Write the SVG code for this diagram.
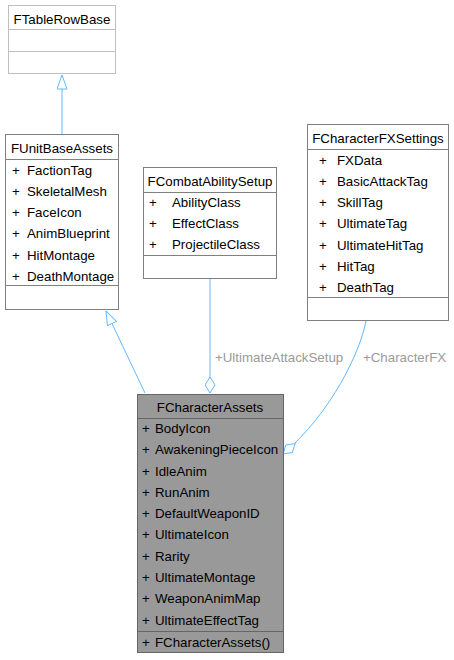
<svg xmlns="http://www.w3.org/2000/svg" width="454" height="660" viewBox="0 0 454 660">
<style>
text{font-family:"Liberation Sans",Arial,sans-serif;font-size:13.3px;fill:#000}
.t{text-anchor:middle}
.box{fill:#fff;stroke:#808080;stroke-width:1}
.lt{fill:#fff;stroke:#bfbfbf;stroke-width:1}
.cur{fill:#999;stroke:#666;stroke-width:1}
.sep{stroke:#808080;stroke-width:1}
.sepl{stroke:#bfbfbf;stroke-width:1}
.sepc{stroke:#666;stroke-width:1}
.edge{fill:none;stroke:#63b8ff;stroke-width:1}
.lbl{fill:#9a9a9a}
</style>
<defs>
<marker id="tri" viewBox="0 0 15 11" refX="14.5" refY="5.5" markerWidth="15" markerHeight="11" markerUnits="userSpaceOnUse" orient="auto">
<path d="M0.5,0.5 L14.5,5.5 L0.5,10.5 Z" fill="#fff" stroke="#63b8ff" stroke-width="1"/>
</marker>
<marker id="dia" viewBox="0 0 17 11" refX="16.5" refY="5.5" markerWidth="17" markerHeight="11" markerUnits="userSpaceOnUse" orient="auto">
<path d="M0.5,5.5 L8.5,0.5 L16.5,5.5 L8.5,10.5 Z" fill="#fff" stroke="#63b8ff" stroke-width="1"/>
</marker>
</defs>
<g id="connectors">
<path class="edge" d="M62,134 L62,75" marker-end="url(#tri)"/>
<path class="edge" d="M145,393 L106,311" marker-end="url(#tri)"/>
<path class="edge" d="M210,279 L210,393" marker-end="url(#dia)"/>
<text class="lbl" x="215" y="362">+UltimateAttackSetup</text>
<path class="edge" d="M366,321 C360,352 332,412 283,454" marker-end="url(#dia)"/>
<text class="lbl" x="363" y="362">+CharacterFX</text>
</g>
<g id="FTableRowBase">
<rect class="lt" x="8.5" y="5.5" width="107" height="68"/>
<line class="sepl" x1="8.5" y1="29.5" x2="115.5" y2="29.5"/>
<line class="sepl" x1="8.5" y1="51.5" x2="115.5" y2="51.5"/>
<text class="t" x="62" y="24">FTableRowBase</text>
</g>
<g id="FUnitBaseAssets">
<rect class="box" x="5.5" y="134.5" width="113" height="175"/>
<line class="sep" x1="5.5" y1="159.5" x2="118.5" y2="159.5"/>
<line class="sep" x1="5.5" y1="285.5" x2="118.5" y2="285.5"/>
<text class="t" x="62" y="153">FUnitBaseAssets</text>
<text x="12" y="175">+<tspan x="27">FactionTag</tspan></text>
<text x="12" y="196">+<tspan x="27">SkeletalMesh</tspan></text>
<text x="12" y="217">+<tspan x="27">FaceIcon</tspan></text>
<text x="12" y="238">+<tspan x="27">AnimBlueprint</tspan></text>
<text x="12" y="260">+<tspan x="27">HitMontage</tspan></text>
<text x="12" y="281">+<tspan x="27">DeathMontage</tspan></text>
</g>
<g id="FCombatAbilitySetup">
<rect class="box" x="143.5" y="167.5" width="133" height="111"/>
<line class="sep" x1="143.5" y1="192.5" x2="276.5" y2="192.5"/>
<line class="sep" x1="143.5" y1="255.5" x2="276.5" y2="255.5"/>
<text class="t" x="210" y="186">FCombatAbilitySetup</text>
<text x="149" y="207">+<tspan x="172">AbilityClass</tspan></text>
<text x="149" y="228">+<tspan x="172">EffectClass</tspan></text>
<text x="149" y="249">+<tspan x="172">ProjectileClass</tspan></text>
</g>
<g id="FCharacterFXSettings">
<rect class="box" x="307.5" y="124.5" width="141" height="196"/>
<line class="sep" x1="307.5" y1="149.5" x2="448.5" y2="149.5"/>
<line class="sep" x1="307.5" y1="297.5" x2="448.5" y2="297.5"/>
<text class="t" x="378" y="143">FCharacterFXSettings</text>
<text x="319" y="165">+<tspan x="337">FXData</tspan></text>
<text x="319" y="186">+<tspan x="337">BasicAttackTag</tspan></text>
<text x="319" y="207">+<tspan x="337">SkillTag</tspan></text>
<text x="319" y="228">+<tspan x="337">UltimateTag</tspan></text>
<text x="319" y="250">+<tspan x="337">UltimateHitTag</tspan></text>
<text x="319" y="271">+<tspan x="337">HitTag</tspan></text>
<text x="319" y="292">+<tspan x="337">DeathTag</tspan></text>
</g>
<g id="FCharacterAssets">
<rect class="cur" x="137.5" y="394.5" width="146" height="258"/>
<line class="sepc" x1="137.5" y1="418.5" x2="283.5" y2="418.5"/>
<line class="sepc" x1="137.5" y1="631.5" x2="283.5" y2="631.5"/>
<text class="t" x="210" y="412">FCharacterAssets</text>
<text x="142" y="433">+<tspan x="155">BodyIcon</tspan></text>
<text x="142" y="454">+<tspan x="155">AwakeningPieceIcon</tspan></text>
<text x="142" y="476">+<tspan x="155">IdleAnim</tspan></text>
<text x="142" y="497">+<tspan x="155">RunAnim</tspan></text>
<text x="142" y="518">+<tspan x="155">DefaultWeaponID</tspan></text>
<text x="142" y="539">+<tspan x="155">UltimateIcon</tspan></text>
<text x="142" y="561">+<tspan x="155">Rarity</tspan></text>
<text x="142" y="582">+<tspan x="155">UltimateMontage</tspan></text>
<text x="142" y="603">+<tspan x="155">WeaponAnimMap</tspan></text>
<text x="142" y="625">+<tspan x="155">UltimateEffectTag</tspan></text>
<text x="142" y="647">+<tspan x="155">FCharacterAssets()</tspan></text>
</g>
</svg>
